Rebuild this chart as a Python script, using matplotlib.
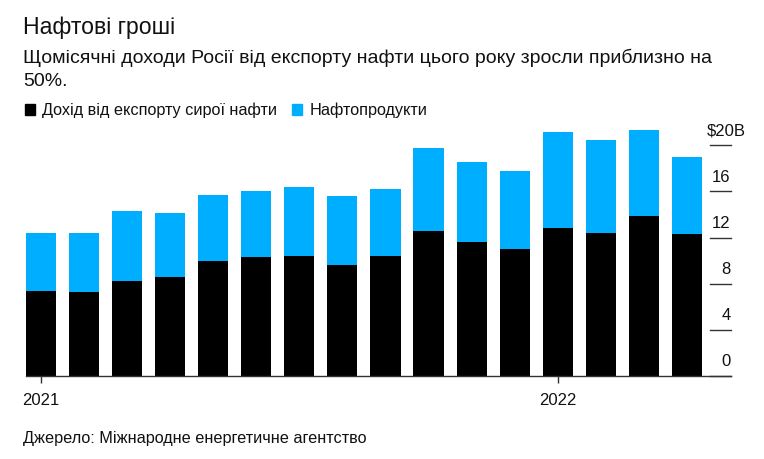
import numpy as np
import matplotlib
matplotlib.use("Agg")
import matplotlib.pyplot as plt
from matplotlib.patches import Rectangle

plt.rcParams['font.family'] = ['Liberation Sans', 'DejaVu Sans']

# monthly values, Jan 2021 .. Apr 2022, $ billions
months = ['2021-01', '2021-02', '2021-03', '2021-04', '2021-05', '2021-06',
          '2021-07', '2021-08', '2021-09', '2021-10', '2021-11', '2021-12',
          '2022-01', '2022-02', '2022-03', '2022-04']
crude = [7.4, 7.3, 8.2, 8.6, 10.0, 10.3, 10.4, 9.6, 10.4, 12.6, 11.6, 11.0,
         12.8, 12.4, 13.9, 12.3]
total = [12.4, 12.4, 14.3, 14.1, 15.7, 16.0, 16.4, 15.6, 16.2, 19.8, 18.6, 17.8,
         21.2, 20.5, 21.3, 19.0]
products = [t - c for t, c in zip(total, crude)]

year_pos = [0, 12]
year_labels = ['2021', '2022']
y_ticks = [0, 4, 8, 12, 16, 20]
y_labels = ['0', '4', '8', '12', '16', '$20B']

BLUE = '#00aeff'
W, H = 764, 459

fig = plt.figure(figsize=(W / 100, H / 100), dpi=100)
left, right, bottom, top = 25.7, 730.7, 376, 122.3
ax = fig.add_axes([left / W, (H - bottom) / H, (right - left) / W, (bottom - top) / H])

x = np.arange(len(months))
ax.bar(x, crude, width=0.7, color='black', linewidth=0)
ax.bar(x, products, width=0.7, bottom=crude, color=BLUE, linewidth=0)

ax.set_xlim(-0.348, 16.01)
ax.set_ylim(0, 22)

for s in ['top', 'left', 'right']:
    ax.spines[s].set_visible(False)
ax.spines['bottom'].set_color('#333333')
ax.spines['bottom'].set_linewidth(1.0)

ax.set_xticks(year_pos)
ax.set_xticklabels(year_labels)
ax.tick_params(axis='x', length=5, width=1, color='#333333', pad=7,
               labelsize=12, labelcolor='#111111')

ax.set_yticks([])
for v, lab in zip(y_ticks, y_labels):
    ax.plot([1 - 20.7 / (right - left), 1], [v, v], color='#333333', lw=1,
            transform=ax.get_yaxis_transform(), clip_on=False)
    xo = 11 if lab.startswith('$') else 0
    ax.annotate(lab, xy=(1, v), xycoords=('axes fraction', 'data'),
                xytext=(xo, 7), textcoords='offset points',
                ha='right', va='baseline', fontsize=12, color='#111111')

# titles
fig.text(23 / W, 1 - 34 / H, 'Нафтові гроші', fontsize=16.6, va='baseline', color='#111111')
fig.text(23 / W, 1 - 63.3 / H,
         'Щомісячні доходи Росії від експорту нафти цього року зросли приблизно на',
         fontsize=14.0, va='baseline', color='#111111')
fig.text(23 / W, 1 - 86 / H, '50%.', fontsize=14.0, va='baseline', color='#111111')

# legend
fig.patches.append(Rectangle((25 / W, 1 - 115 / H), 10 / W, 11 / H, color='black',
                             transform=fig.transFigure))
fig.text(42.3 / W, 1 - 115 / H, 'Дохід від експорту сирої нафти', fontsize=11.7,
         va='baseline', color='#111111')
fig.patches.append(Rectangle((292.3 / W, 1 - 115 / H), 10 / W, 11 / H, color=BLUE,
                             transform=fig.transFigure))
fig.text(310 / W, 1 - 115 / H, 'Нафтопродукти', fontsize=11.7, va='baseline',
         color='#111111')

# source
fig.text(23 / W, 1 - 443.3 / H, 'Джерело: Міжнародне енергетичне агентство',
         fontsize=11.7, va='baseline', color='#111111')

fig.savefig('out.png', dpi=100)
